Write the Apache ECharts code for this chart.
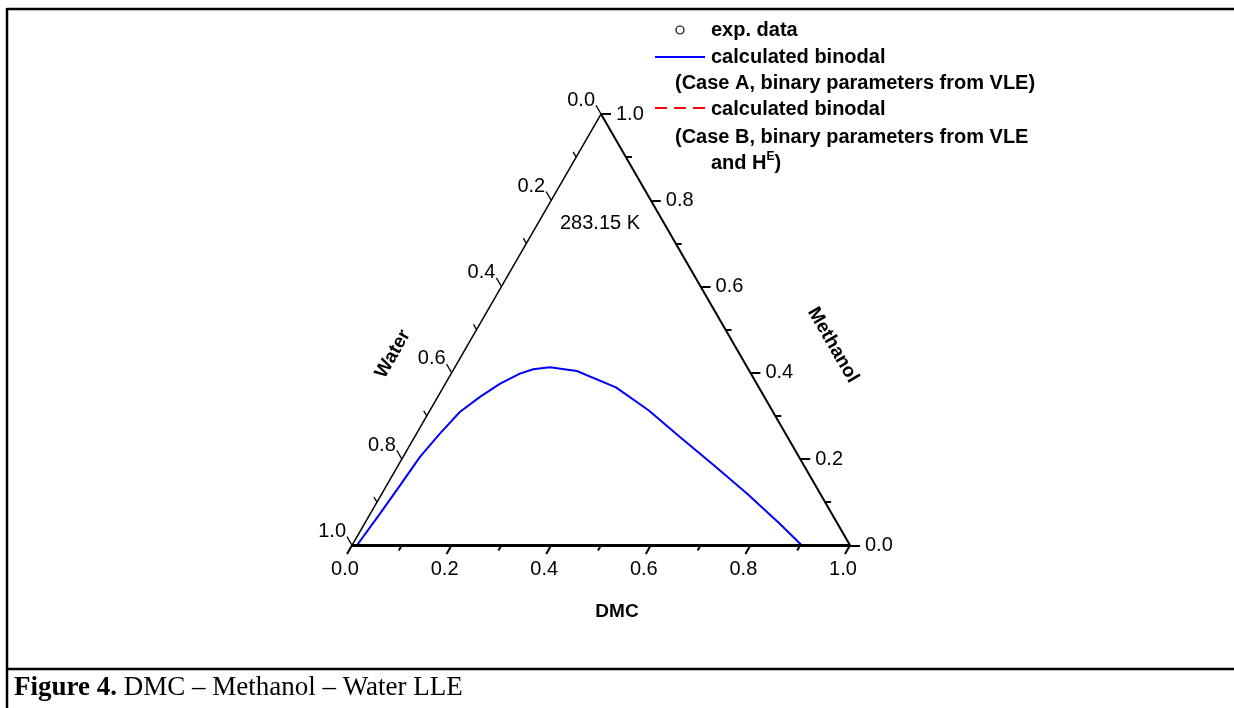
<!DOCTYPE html>
<html><head><meta charset="utf-8">
<script src="https://cdn.jsdelivr.net/npm/echarts@6/dist/echarts.min.js"></script>
<style>html,body{margin:0;padding:0;background:#fff}#c{width:1234px;height:708px}</style>
</head><body><div id="c"></div>
<script>
// ---- data ----
const axisTitles = ['DMC', 'Methanol', 'Water'];
const majorTicks = [0, 0.2, 0.4, 0.6, 0.8, 1.0];
const minorTicks = [0.1, 0.3, 0.5, 0.7, 0.9];
const tickLabels = ['0.0', '0.2', '0.4', '0.6', '0.8', '1.0'];
const temperatureLabel = '283.15 K';
// calculated binodal, Case A (mole fractions)
const binodalA_DMC      = [0.010, 0.0195, 0.027, 0.034, 0.047, 0.062, 0.085, 0.110, 0.138, 0.160, 0.191, 0.2495, 0.347, 0.439, 0.533, 0.633, 0.733, 0.834, 0.903];
const binodalA_Methanol = [0.000, 0.0735, 0.139, 0.205, 0.259, 0.309, 0.344, 0.375, 0.398, 0.408, 0.413, 0.404, 0.366, 0.313, 0.251, 0.186, 0.120, 0.050, 0.000];
const legendLabels = ['exp. data', 'calculated binodal', '(Case A, binary parameters from VLE)', 'calculated binodal', '(Case B, binary parameters from VLE', 'and H{sup|E})'];
const captionBold = 'Figure 4.';
const captionText = ' DMC \u2013 Methanol \u2013 Water LLE';

// ---- geometry helpers ----
const H = Math.sqrt(3) / 2;
const SIDE = 498; // px per unit
const tern = (dmc, meth) => [dmc + meth / 2, meth * H];
const edges = {
  bottom: { pt: t => tern(t, 0), dir: [-0.5, -H] },
  right:  { pt: m => tern(1 - m, m), dir: [1, 0] },
  left:   { pt: w => tern(0, 1 - w), dir: [-0.5, H] }
};
function tickSegs(edge, vals, lenPx) {
  const l = lenPx / SIDE;
  return vals.map(v => { const p = edge.pt(v); return { coords: [p, [p[0] + edge.dir[0] * l, p[1] + edge.dir[1] * l]] }; });
}
const FONT = '"Liberation Sans", Arial, sans-serif';
function tickSeries(edge, width) {
  return {
    type: 'lines', coordinateSystem: 'cartesian2d', silent: true, clip: false, z: 3,
    lineStyle: { color: '#000', width: width, opacity: 1 },
    data: tickSegs(edge, majorTicks, 10).concat(tickSegs(edge, minorTicks, 6))
  };
}
function labelSeries(edge, offset, align) {
  return {
    type: 'scatter', symbolSize: 0, silent: true, clip: false,
    itemStyle: { color: '#000', opacity: 1 },
    data: majorTicks.map((v, i) => { const p = edge.pt(v); return [p[0], p[1], tickLabels[i]]; }),
    label: { show: true, position: 'inside', formatter: p => p.value[2], offset: offset, align: align, verticalAlign: 'middle',
      color: '#000', opacity: 1, textBorderWidth: 0, fontFamily: FONT, fontSize: 20 }
  };
}

const chart = echarts.init(document.getElementById('c'), null, { renderer: 'canvas' });
const txt = (x, y, text, opts) => Object.assign({
  type: 'text', x: x, y: y, silent: true,
  style: Object.assign({ text: text, fill: '#000', font: 'bold 20px ' + FONT, align: 'left', textAlign: 'left', verticalAlign: 'middle', textVerticalAlign: 'middle' }, opts || {})
});

const methanolTitle = txt(833, 345, axisTitles[1], { align: 'center', textAlign: 'center', font: 'bold 19px ' + FONT });
methanolTitle.rotation = -Math.PI / 3;
const waterTitle = txt(393, 354, axisTitles[2], { align: 'center', textAlign: 'center', font: 'bold 19px ' + FONT });
waterTitle.rotation = Math.PI / 3;

const option = {
  animation: false,
  backgroundColor: '#fff',
  grid: { left: 352, top: 114, width: SIDE, height: SIDE * H },
  xAxis: { type: 'value', min: 0, max: 1, show: false },
  yAxis: { type: 'value', min: 0, max: H, show: false },
  series: [
    // triangle sides
    { type: 'lines', coordinateSystem: 'cartesian2d', silent: true, clip: false, z: 3,
      data: [
        { coords: [edges.bottom.pt(0), edges.bottom.pt(1)], lineStyle: { width: 3 } },
        { coords: [edges.right.pt(0), edges.right.pt(1)], lineStyle: { width: 2 } },
        { coords: [edges.left.pt(0), edges.left.pt(1)], lineStyle: { width: 1.5 } }
      ],
      lineStyle: { color: '#000', opacity: 1 } },
    tickSeries(edges.bottom, 2),
    tickSeries(edges.right, 2),
    tickSeries(edges.left, 1.3),
    labelSeries(edges.bottom, [-7, 24], 'center'),
    labelSeries(edges.right, [15, 0], 'left'),
    labelSeries(edges.left, [-6, -14], 'right'),
    // binodal curve
    { type: 'line', name: 'calculated binodal (Case A)', showSymbol: false, clip: false, silent: true, z: 2,
      data: binodalA_DMC.map((d, i) => tern(d, binodalA_Methanol[i])),
      lineStyle: { color: '#0000ff', width: 2 } }
  ],
  graphic: [
    // frame
    { type: 'line', shape: { x1: 7, y1: 9, x2: 1234, y2: 9 }, style: { stroke: '#000', lineWidth: 2.5 } },
    { type: 'line', shape: { x1: 7, y1: 8, x2: 7, y2: 708 }, style: { stroke: '#000', lineWidth: 2.5 } },
    { type: 'line', shape: { x1: 7, y1: 669, x2: 1234, y2: 669 }, style: { stroke: '#000', lineWidth: 2.5 } },
    // caption
    { type: 'text', x: 14, y: 688, silent: true,
      style: { text: '{b|' + captionBold + '}{n|' + captionText + '}', fill: '#000', align: 'left', textAlign: 'left', verticalAlign: 'middle', textVerticalAlign: 'middle',
        rich: { b: { fontFamily: '"Liberation Serif", "Times New Roman", serif', fontWeight: 'bold', fontSize: 27, fill: '#000', color: '#000' },
                n: { fontFamily: '"Liberation Serif", "Times New Roman", serif', fontSize: 27, fill: '#000', color: '#000' } } } },
    // axis titles
    txt(617, 612, axisTitles[0], { align: 'center', textAlign: 'center', font: 'bold 19px ' + FONT }),
    methanolTitle,
    waterTitle,
    txt(600, 223, temperatureLabel, { align: 'center', textAlign: 'center', font: '20px ' + FONT }),
    // legend
    { type: 'circle', shape: { cx: 680, cy: 30, r: 4 }, style: { fill: '#fff', stroke: '#000', lineWidth: 1.2 } },
    txt(711, 30, legendLabels[0]),
    { type: 'line', shape: { x1: 655, y1: 57, x2: 705, y2: 57 }, style: { stroke: '#0000ff', lineWidth: 2 } },
    txt(711, 57, legendLabels[1]),
    txt(675, 83, legendLabels[2]),
    { type: 'line', shape: { x1: 655, y1: 108, x2: 705, y2: 108 }, style: { stroke: '#ff0000', lineWidth: 2, lineDash: [12, 7] } },
    txt(711, 109, legendLabels[3]),
    txt(675, 137, legendLabels[4]),
    { type: 'text', x: 711, y: 163, silent: true,
      style: { text: '{n|and H}{sup|E}{n|)}', fill: '#000', align: 'left', textAlign: 'left', verticalAlign: 'middle', textVerticalAlign: 'middle',
        rich: { n: { fontFamily: FONT, fontWeight: 'bold', fontSize: 20, lineHeight: 24, color: '#000' },
                sup: { fontFamily: FONT, fontWeight: 'bold', fontSize: 12, lineHeight: 24, verticalAlign: 'top', color: '#000' } } } }
  ]
};
chart.setOption(option);
</script>
</body></html>
